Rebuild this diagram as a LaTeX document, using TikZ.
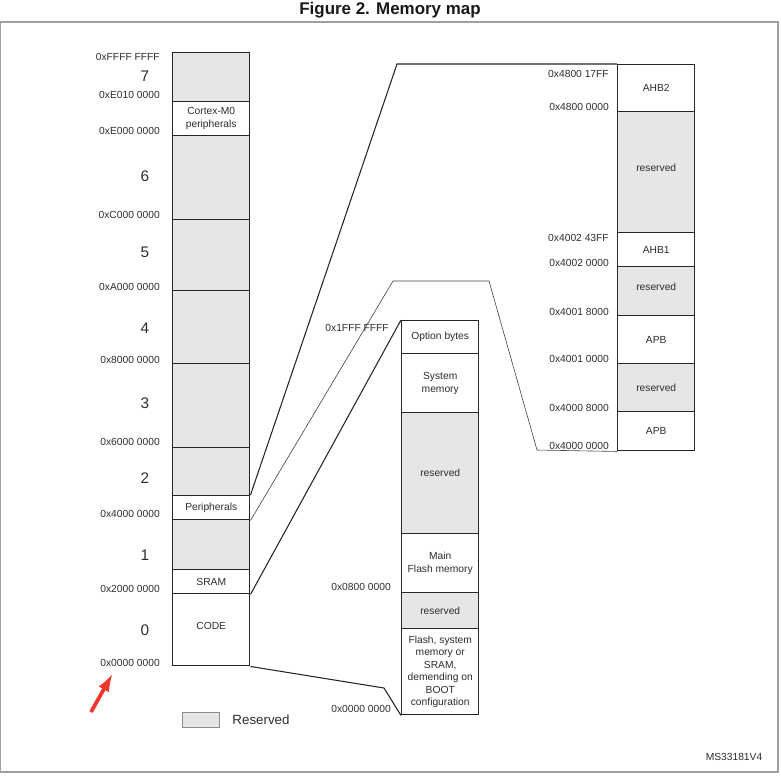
\documentclass[tikz,border=0pt]{standalone}
\usepackage{fontspec}
\setmainfont{Liberation Sans}
\usepackage{tikz}
\usetikzlibrary{positioning, arrows.meta}
\definecolor{rsvgray}{RGB}{230,230,230}
\definecolor{txtgray}{RGB}{45,45,45}
\definecolor{framegray}{RGB}{160,160,160}
\definecolor{markred}{RGB}{240,55,45}
\tikzset{
  block/.style={
    draw=black!85, line width=1.1pt, fill=white, minimum width=57.75pt,
    inner sep=1pt, align=center, text=txtgray,
    font=\fontsize{7.7}{9.4}\selectfont
  },
  rsv/.style={block, fill=rsvgray},
  addr/.style={anchor=east, inner sep=0pt, text=txtgray, font=\fontsize{7.7}{8}\selectfont},
  regnum/.style={inner sep=0pt, text=txtgray, font=\fontsize{11.5}{12}\selectfont},
  link/.style={draw=black!85, line width=0.8pt},
  thinlink/.style={draw=black!75, line width=0.45pt},
}
% name, left x, top y, bottom y, style, text
\newcommand{\memblock}[6]{%
  \node[#5, minimum height={(#4-#3)*0.75pt}, anchor=north west] (#1) at (#2,#3) {#6};}

\begin{document}
\begin{tikzpicture}[x=0.75pt, y=-0.75pt]
  \useasboundingbox (0,0) rectangle (781,776);
  \draw[framegray, line width=0.8pt] (0,22) -- (778,22) -- (778,772) -- (0,772) -- cycle;
  \node[font=\fontsize{12.7}{14}\bfseries, text=black!90] (title) at (390,10) {Figure 2. Memory map};

  % Main memory map
  \memblock{rseven}{172}{52}{101}{rsv}{}
  \memblock{cortex}{172}{101}{135}{block}{Cortex-M0\\peripherals}
  \memblock{rsix}{172}{135}{219}{rsv}{}
  \memblock{rfive}{172}{219}{290}{rsv}{}
  \memblock{rfour}{172}{290}{363}{rsv}{}
  \memblock{rthree}{172}{363}{447}{rsv}{}
  \memblock{rtwo}{172}{447}{495}{rsv}{}
  \memblock{periph}{172}{495}{519}{block}{Peripherals}
  \memblock{rone}{172}{519}{569}{rsv}{}
  \memblock{sram}{172}{569}{593}{block}{SRAM}
  \memblock{code}{172}{593}{665}{block}{CODE\\[-4pt]}

  \node[addr] (a7) at (160,57) {0xFFFF FFFF};
  \node[addr] (a6) at (160,95) {0xE010 0000};
  \node[addr] (a5) at (160,131) {0xE000 0000};
  \node[addr] (a4) at (160,215) {0xC000 0000};
  \node[addr] (a3) at (160,287) {0xA000 0000};
  \node[addr] (a2) at (160,360) {0x8000 0000};
  \node[addr] (a1) at (160,442) {0x6000 0000};
  \node[addr] (a0) at (160,514) {0x4000 0000};
  \node[addr] (am) at (160,589) {0x2000 0000};
  \node[addr] (az) at (160,663) {0x0000 0000};

  \node[regnum] (n7) at (145,76) {7};
  \node[regnum] (n6) at (145,176) {6};
  \node[regnum] (n5) at (145,252) {5};
  \node[regnum] (n4) at (145,328) {4};
  \node[regnum] (n3) at (145,403) {3};
  \node[regnum] (n2) at (145,478) {2};
  \node[regnum] (n1) at (145,555) {1};
  \node[regnum] (n0) at (145,630) {0};

  % Code area detail
  \memblock{optbytes}{401}{320}{353}{block}{Option bytes}
  \memblock{sysmem}{401}{353}{412}{block}{System\\memory}
  \memblock{crsv}{401}{412}{533}{rsv}{reserved}
  \memblock{mainflash}{401}{533}{592}{block}{Main\\Flash memory}
  \memblock{frsv}{401}{592}{628}{rsv}{reserved}
  \memblock{bootarea}{401}{628}{714}{block}{Flash, system\\memory or\\SRAM,\\demending on\\BOOT\\configuration}

  \node[addr] (b2) at (389,328) {0x1FFF FFFF};
  \node[addr] (b1) at (391,587) {0x0800 0000};
  \node[addr] (b0) at (391,709) {0x0000 0000};

  % Peripheral area detail
  \memblock{ahbtwo}{617}{64}{111}{block}{AHB2}
  \memblock{prsvtop}{617}{111}{232}{rsv}{reserved\\[-2pt]}
  \memblock{ahbone}{617}{232}{266}{block}{AHB1}
  \memblock{prsvmid}{617}{266}{315}{rsv}{reserved\\[-3.4pt]}
  \memblock{apbone}{617}{315}{363}{block}{APB}
  \memblock{prsvlow}{617}{363}{411}{rsv}{reserved}
  \memblock{apbzero}{617}{411}{450}{block}{APB}

  \node[addr] (p7) at (609,74) {0x4800 17FF};
  \node[addr] (p6) at (609,107) {0x4800 0000};
  \node[addr] (p5) at (609,238) {0x4002 43FF};
  \node[addr] (p4) at (609,263) {0x4002 0000};
  \node[addr] (p3) at (609,312) {0x4001 8000};
  \node[addr] (p2) at (609,359) {0x4001 0000};
  \node[addr] (p1) at (609,408) {0x4000 8000};
  \node[addr] (p0) at (609,446) {0x4000 0000};

  % Zoom connectors
  \coordinate (k1) at (397,64);
  \coordinate (k2a) at (393,281);
  \coordinate (k2b) at (489,281);
  \coordinate (k2c) at (537,450);
  \coordinate (k4) at (384,688);
  \draw[link] (periph.north east) -- (k1) -- (ahbtwo.north west);
  \draw[thinlink] (periph.south east) -- (k2a) -- (k2b) -- (k2c) -- (apbzero.south west);
  \draw[link] (sram.south east) -- (optbytes.north west);
  \draw[link] (code.south east) -- (k4) -- (bootarea.south west);

  % Legend
  \node[draw=black!45, line width=0.8pt, fill=rsvgray, minimum width=28pt, minimum height=11pt, inner sep=0pt] (legbox) at (201,720) {};
  \node[right=9pt of legbox, inner sep=0pt, text=txtgray, font=\fontsize{10}{12}\selectfont] (legtext) {Reserved};

  \node[text=txtgray, font=\fontsize{7.7}{8}\selectfont] (docref) at (734,757) {MS33181V4};

  % Red marker
  \coordinate (arrtail) at (91,712);
  \coordinate (arrhead) at (113,673);
  \draw[markred, line width=2.8pt, -{Latex[length=14pt, width=9pt]}] (arrtail) -- (arrhead);
\end{tikzpicture}
\end{document}
